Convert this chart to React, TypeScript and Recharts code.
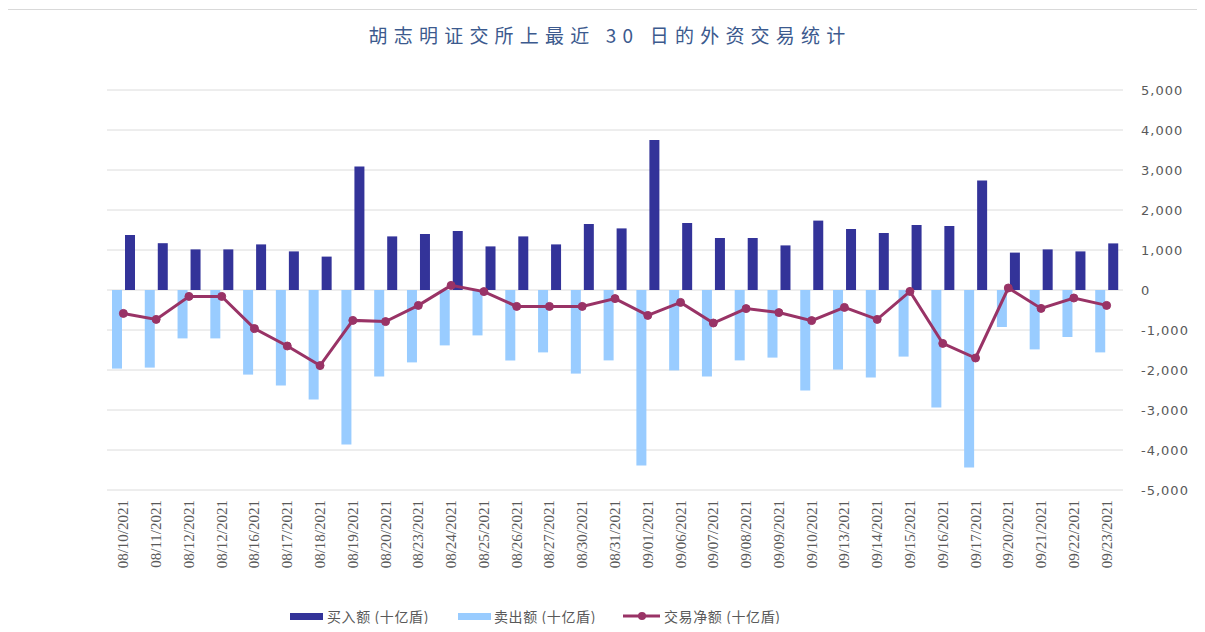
import React from "react";
import { ComposedChart, Bar, Line, XAxis, YAxis, CartesianGrid } from "recharts";

const dates = [
  "08/10/2021", "08/11/2021", "08/12/2021", "08/12/2021", "08/16/2021", "08/17/2021",
  "08/18/2021", "08/19/2021", "08/20/2021", "08/23/2021", "08/24/2021", "08/25/2021",
  "08/26/2021", "08/27/2021", "08/30/2021", "08/31/2021", "09/01/2021", "09/06/2021",
  "09/07/2021", "09/08/2021", "09/09/2021", "09/10/2021", "09/13/2021", "09/14/2021",
  "09/15/2021", "09/16/2021", "09/17/2021", "09/20/2021", "09/21/2021", "09/22/2021",
  "09/23/2021",
];

const buyValues = [
  1375, 1170, 1015, 1015, 1140, 965, 835, 3090, 1340, 1400, 1475, 1090, 1340, 1140,
  1650, 1540, 3750, 1675, 1300, 1300, 1115, 1735, 1525, 1425, 1625, 1600, 2735, 935,
  1015, 965, 1165,
];

const sellValues = [
  -1965, -1940, -1210, -1210, -2115, -2390, -2740, -3860, -2165, -1810, -1385, -1135,
  -1760, -1560, -2090, -1760, -4385, -2010, -2165, -1760, -1690, -2515, -1990, -2190,
  -1665, -2940, -4440, -925, -1485, -1175, -1560,
];

const netValues = [
  -585, -735, -160, -160, -965, -1400, -1890, -760, -790, -385, 115, -40, -410, -410,
  -410, -215, -635, -310, -825, -465, -565, -765, -435, -735, -35, -1335, -1700, 50,
  -460, -200, -385,
];

const yTicks = [5000, 4000, 3000, 2000, 1000, 0, -1000, -2000, -3000, -4000, -5000];

const title = "胡志明证交所上最近 30 日的外资交易统计";
const buyName = "买入额 (十亿盾)";
const sellName = "卖出额 (十亿盾)";
const netName = "交易净额 (十亿盾)";

const BUY = "#333399";
const SELL = "#99CCFF";
const NET = "#993366";

const data = dates.map((d, i) => ({
  date: d,
  buy: buyValues[i],
  sell: sellValues[i],
  net: netValues[i],
}));

const XTick = (props: any) => {
  const { x, y, payload } = props;
  return (
    <text
      x={x}
      y={y}
      transform={`rotate(-90, ${x}, ${y})`}
      textAnchor="end"
      dominantBaseline="central"
      fill="#595959"
      fontFamily="Liberation Serif"
      fontSize={15}
    >
      {payload.value}
    </text>
  );
};

const legendText: React.CSSProperties = {
  fontFamily: "'Noto Sans CJK SC', 'Noto Sans', sans-serif",
  fontSize: 14,
  color: "#595959",
  letterSpacing: 0.6,
  position: "absolute",
  top: 606,
  lineHeight: "20px",
  whiteSpace: "nowrap",
};

export default function App() {
  return (
    <div style={{ margin: -8, position: "relative", width: 1205, height: 632, background: "#fff", overflow: "hidden" }}>
      <div
        style={{
          position: "absolute",
          left: 7,
          top: 9,
          width: 1300,
          height: 700,
          border: "1px solid #d9d9d9",
        }}
      />
      <div
        style={{
          position: "absolute",
          top: 22,
          left: 0,
          width: 1220,
          textAlign: "center",
          fontFamily: "'Noto Sans CJK SC', sans-serif",
          fontSize: 19,
          letterSpacing: 6.2,
          color: "#3C5A8E",
          lineHeight: "26px",
          whiteSpace: "nowrap",
        }}
      >
        {title}
      </div>
      <div style={{ position: "absolute", left: 0, top: 0 }}>
        <ComposedChart
          width={1205}
          height={632}
          data={data}
          margin={{ top: 90, right: 0, bottom: 32, left: 107 }}
          barGap={3}
          barSize={10}
        >
          <CartesianGrid vertical={false} stroke="#dcdcdc" strokeWidth={1} />
          <XAxis
            dataKey="date"
            axisLine={false}
            tickLine={false}
            interval={0}
            height={110}
            tick={<XTick />}
            tickMargin={4}
          />
          <YAxis
            orientation="right"
            width={82}
            domain={[-5000, 5000]}
            ticks={yTicks}
            axisLine={false}
            tickLine={false}
            tickSize={8}
            tickMargin={10}
            interval={0}
            tickFormatter={(v: number) => v.toLocaleString("en-US")}
            tick={{ fill: "#595959", fontSize: 13, fontFamily: "DejaVu Sans", letterSpacing: 1 }}
          />
          <Bar dataKey="sell" name={sellName} fill={SELL} isAnimationActive={false} />
          <Bar dataKey="buy" name={buyName} fill={BUY} isAnimationActive={false} />
          <Line
            dataKey="net"
            name={netName}
            stroke={NET}
            strokeWidth={3}
            dot={{ r: 4, fill: NET, stroke: NET, strokeWidth: 1 }}
            isAnimationActive={false}
          />
        </ComposedChart>
      </div>
      <div style={{ position: "absolute", left: 290, top: 613, width: 33, height: 7, background: BUY }} />
      <div style={{ ...legendText, left: 327 }}>{buyName}</div>
      <div style={{ position: "absolute", left: 458, top: 613, width: 33, height: 7, background: SELL }} />
      <div style={{ ...legendText, left: 494 }}>{sellName}</div>
      <svg style={{ position: "absolute", left: 622, top: 608 }} width={40} height={16}>
        <line x1={1} y1={8} x2={38} y2={8} stroke={NET} strokeWidth={3} />
        <circle cx={20} cy={8} r={4} fill={NET} />
      </svg>
      <div style={{ ...legendText, left: 664 }}>{netName}</div>
    </div>
  );
}
